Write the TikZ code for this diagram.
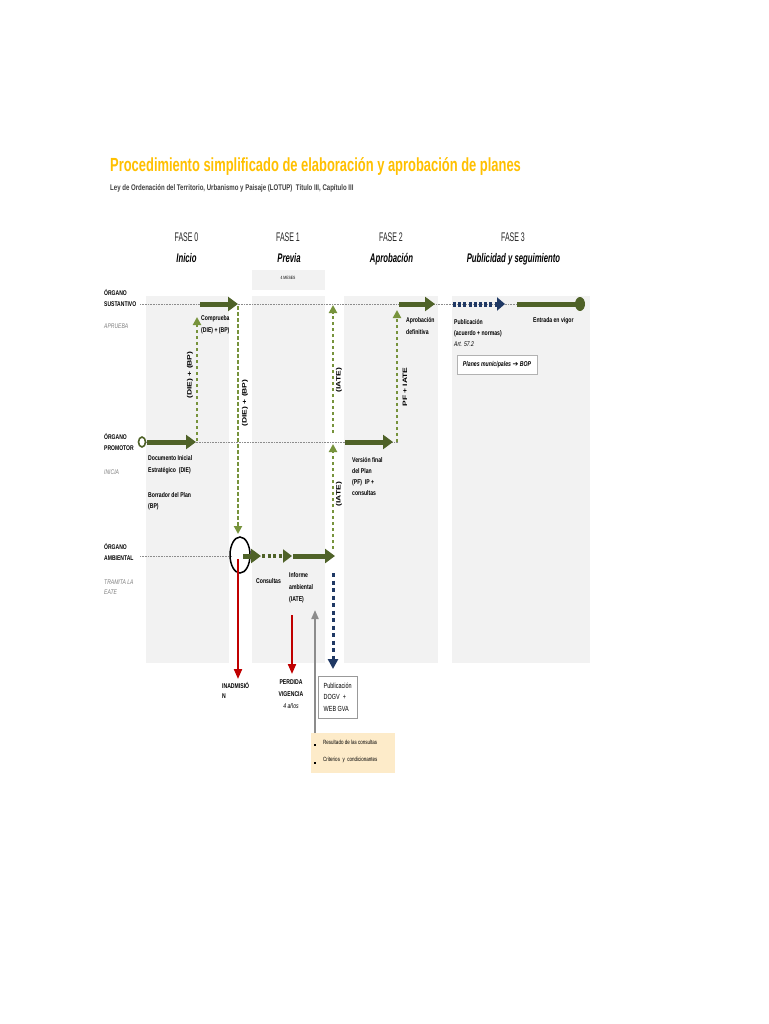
\documentclass[tikz,border=0pt]{standalone}
\usepackage{fontspec}
\setmainfont{Liberation Sans}[FakeStretch=0.74]
\newfontfamily\titlef{Liberation Sans}[FakeStretch=0.68]
\newfontfamily\hdrf{Liberation Sans}[FakeStretch=0.56]
\newfontfamily\hdrif{Liberation Sans}[FakeStretch=0.62]
\newfontfamily\rotf{Liberation Sans}
\newfontfamily\symf{DejaVu Sans}
\usetikzlibrary{arrows.meta,shapes.geometric}
\definecolor{olive}{HTML}{4F6228}
\definecolor{lgreen}{HTML}{77933C}
\definecolor{navy}{HTML}{1F3864}
\definecolor{dred}{HTML}{C00000}
\definecolor{panel}{HTML}{F2F2F2}
\definecolor{gold}{HTML}{FFC000}
\definecolor{cream}{HTML}{FDEBC9}
\definecolor{subgray}{HTML}{404040}
\begin{document}
\begin{tikzpicture}[x=1pt,y=-1pt,
  lbl/.style={font=\bfseries\fontsize{6.9}{11}\selectfont, align=left, anchor=north west, inner sep=0pt},
  side/.style={font=\bfseries\fontsize{6.8}{11}\selectfont, align=left, anchor=west, inner sep=0pt},
  note/.style={font=\itshape\fontsize{6.8}{10}\selectfont, text=black!50, align=left, anchor=west, inner sep=0pt},
  rot/.style={font=\rotf\bfseries\fontsize{8.5}{9}\selectfont, inner sep=0pt, rotate=90, yscale=0.75},
  fase/.style={font=\hdrf\fontsize{12.5}{14}\selectfont, anchor=base, inner sep=0pt, text=black!85},
  fasename/.style={font=\hdrif\bfseries\itshape\fontsize{12.5}{14}\selectfont, anchor=base, inner sep=0pt},
  fat/.style={draw=olive, line width=5pt, -{Triangle[length=10pt,width=14pt]}},
  dsh/.style={draw=lgreen, line width=2.4pt, dash pattern=on 3.5pt off 2.5pt, -{Triangle[length=8pt,width=8pt]}},
  dotl/.style={draw=black!45, line width=0.8pt, dash pattern=on 0.8pt off 0.8pt},
  redarr/.style={draw=dred, line width=2pt, -{Triangle[length=10pt,width=8pt]}},
  panelbox/.style={fill=panel, draw=none}
]
\useasboundingbox (0,0) rectangle (768,1024);
\fill[white] (0,0) rectangle (768,1024);

% title
\node[font=\titlef\bfseries\fontsize{19}{20}\selectfont, text=gold, anchor=base west, inner sep=0pt] (title) at (110,172) {Procedimiento simplificado de elaboración y aprobación de planes};
\node[font=\bfseries\fontsize{8.2}{9}\selectfont, text=subgray, anchor=base west, inner sep=0pt] (subtitle) at (110,191) {Ley de Ordenación del Territorio, Urbanismo y Paisaje (LOTUP)\ \ Título III, Capítulo III};

% phase headers
\node[fase] (f0) at (186.5,241) {FASE 0};
\node[fasename] (f0n) at (186.5,262) {Inicio};
\node[fase] (f1) at (288,241) {FASE 1};
\node[fasename] (f1n) at (289,262) {Previa};
\node[fase] (f2) at (391,241) {FASE 2};
\node[fasename] (f2n) at (391.5,262) {Aprobación};
\node[fase] (f3) at (513,241) {FASE 3};
\node[fasename] (f3n) at (513.5,262) {Publicidad y seguimiento};

% panels
\fill[panel] (252,270) rectangle (325,290);
\node[font=\fontsize{4.6}{5}\selectfont, inner sep=0pt] (meses) at (288,278) {4 MESES};
\fill[panel] (146,296) rectangle (229,663);
\fill[panel] (252,296) rectangle (325,663);
\fill[panel] (344,296) rectangle (438,663);
\fill[panel] (452,296) rectangle (590,663);

% side labels
\node[side] (sust) at (104,298.5) {ÓRGANO\\SUSTANTIVO};
\node[note] (aprueba) at (104,326) {APRUEBA};
\node[side] (prom) at (104,442.5) {ÓRGANO\\PROMOTOR};
\node[note] (inicia) at (104,472) {INICIA};
\node[side] (amb) at (104,552) {ÓRGANO\\AMBIENTAL};
\node[note] (tramita) at (104,587) {TRAMITA LA\\EATE};

% coordinates
\coordinate (s0) at (140,304);
\coordinate (s1) at (576,304);
\coordinate (p0) at (146,442);
\coordinate (p1) at (398,442);
\coordinate (a0) at (140,556);
\coordinate (a1) at (232,556);

% dotted lines
\draw[dotl] (s0) -- (s1);
\draw[dotl] (p0) -- (p1);
\draw[dotl] (a0) -- (a1);

% promotor start circle
\node[draw=olive, line width=1.6pt, ellipse, minimum width=7pt, minimum height=10pt, inner sep=0pt, fill=white] (pstart) at (142,442) {};
\coordinate (pa1) at (196,442);
\draw[fat] (pstart.east) ++(1,0) -- (pa1);

% sustantivo fase 0 arrow
\coordinate (sa0) at (200,304);
\coordinate (sa1) at (238,304);
\draw[fat] (sa0) -- (sa1);

% dashed up/down arrows
\coordinate (d1b) at (197,441);
\coordinate (d1t) at (197,317);
\draw[dsh] (d1b) -- (d1t);
\coordinate (d2t) at (238,306);
\coordinate (d2b) at (238,534);
\draw[dsh] (d2t) -- (d2b);
\coordinate (d3b) at (333,433);
\coordinate (d3t) at (333,305);
\draw[dsh] (d3b) -- (d3t);
\coordinate (d4b) at (333,549);
\coordinate (d4t) at (333,444);
\draw[dsh] (d4b) -- (d4t);
\coordinate (d5b) at (397,442);
\coordinate (d5t) at (397,310);
\draw[dsh] (d5b) -- (d5t);

% fase 2 arrows
\coordinate (pf0) at (345,442);
\coordinate (pf1) at (393,442);
\draw[fat] (pf0) -- (pf1);
\coordinate (sf0) at (399,304);
\coordinate (sf1) at (435,304);
\draw[fat] (sf0) -- (sf1);

% fase 3
\coordinate (n0) at (453,304);
\coordinate (n1) at (505,304);
\draw[draw=navy, line width=5pt, dash pattern=on 3pt off 2.2pt, -{Triangle[length=8pt,width=13pt]}] (n0) -- (n1);
\coordinate (e0) at (517,304);
\node[fill=olive, ellipse, minimum width=10pt, minimum height=14pt, inner sep=0pt] (vigor) at (580,304) {};
\draw[draw=olive, line width=5pt] (e0) -- (vigor.center);

% ambiental
\node[draw=black, line width=1.5pt, ellipse, minimum width=20pt, minimum height=36pt, inner sep=0pt] (circ) at (240,555) {};
\coordinate (r1t) at (238,559);
\coordinate (r1b) at (238,679);
\draw[redarr] (r1t) -- (r1b);
\coordinate (g0) at (243,556);
\coordinate (g1) at (261,556);
\draw[fat] (g0) -- (g1);
\coordinate (g2) at (262,556);
\coordinate (g3) at (292,556);
\draw[draw=olive, line width=4pt, dash pattern=on 3pt off 2.5pt, -{Triangle[length=9pt,width=13pt]}] (g2) -- (g3);
\coordinate (g4) at (293,556);
\coordinate (g5) at (335,556);
\draw[fat] (g4) -- (g5);

\coordinate (r2t) at (292,615);
\coordinate (r2b) at (292,674);
\draw[redarr] (r2t) -- (r2b);

\coordinate (nv0) at (333,573);
\coordinate (nv1) at (333,669);
\draw[draw=navy, line width=3pt, dash pattern=on 4pt off 3.5pt, -{Triangle[length=10pt,width=10pt]}] (nv0) -- (nv1);

% yellow box and gray arrow
\fill[cream] (311,733) rectangle (395,773);
\coordinate (gy0) at (315,733);
\coordinate (gy1) at (315,610);
\draw[draw=black!45, line width=2pt, -{Triangle[length=9pt,width=7pt]}] (gy0) -- (gy1);
\node[fill=black, minimum size=2.6pt, inner sep=0pt] (b1) at (315,745) {};
\node[fill=black, minimum size=2.6pt, inner sep=0pt] (b2) at (315,763) {};
\node[font=\fontsize{6.1}{7}\selectfont, anchor=west, inner sep=0pt] (res) at (323,742) {Resultado de las consultas};
\node[font=\fontsize{6.1}{7}\selectfont, anchor=west, inner sep=0pt] (crit) at (323,760) {Criterios\ \ y\ \ condicionantes};

% text labels
\node[lbl, font=\bfseries\fontsize{6.9}{12}\selectfont] (compr) at (201,315) {Comprueba\\(DIE) + (BP)};
\node[lbl, font=\bfseries\fontsize{6.9}{12.5}\selectfont] (die) at (148,455) {Documento Inicial\\Estratégico\ \ (DIE)};
\node[lbl] (bp) at (148,492) {Borrador del Plan\\(BP)};
\node[lbl] (vf) at (352,457) {Versión final\\del Plan\\(PF)\ \ IP +\\consultas};
\node[lbl, font=\bfseries\fontsize{6.9}{12}\selectfont] (apd) at (406,317) {Aprobación\\definitiva};
\node[lbl] (pub) at (454,319) {Publicación\\(acuerdo + normas)\\{\mdseries\itshape Art. 57.2}};
\node[lbl, anchor=west] (ev) at (533,321) {Entrada en vigor};
\node[draw=black!30, fill=white, minimum width=80pt, minimum height=19pt, inner sep=0pt, font=\bfseries\itshape\fontsize{7}{8}\selectfont] (bop) at (497,365) {Planes municipales {\symf\mdseries\upshape ➔} BOP};
\node[lbl, anchor=west] (cons) at (256,581) {Consultas};
\node[lbl, font=\bfseries\fontsize{6.9}{12}\selectfont] (inf) at (289,572) {Informe\\ambiental\\(IATE)};
\node[lbl, font=\bfseries\fontsize{6.9}{10.5}\selectfont] (inad) at (222,682) {INADMISIÓ\\N};
\node[lbl, anchor=north, align=center, font=\bfseries\fontsize{6.9}{12}\selectfont] (perd) at (291,680) {PERDIDA\\VIGENCIA\\{\mdseries\itshape 4 años}};
\node[draw=black!40, fill=white, anchor=north west, align=left, inner xsep=3.5pt, inner ysep=4pt, minimum width=39pt, minimum height=42pt, font=\fontsize{7.4}{11.5}\selectfont] (dogv) at (318,676) {Publicación\\DOGV\ \ +\\WEB GVA};

% rotated labels
\node[rot] (rt1) at (190,375) {(DIE) + (BP)};
\node[rot] (rt2) at (245,403) {(DIE) + (BP)};
\node[rot] (rt3) at (339,380) {(IATE)};
\node[rot] (rt4) at (339,494) {(IATE)};
\node[rot] (rt5) at (405,387) {PF + IATE};
\end{tikzpicture}
\end{document}
